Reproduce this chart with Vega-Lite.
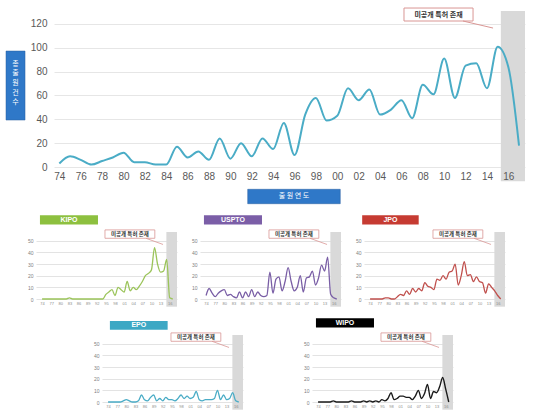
{
  "$schema": "https://vega.github.io/schema/vega-lite/v6.json",
  "padding": {"left": 2, "top": 7, "right": 2, "bottom": 2},
  "config": {"view": {"stroke": null}, "font": "Liberation Sans", "axis": {"labelOverlap": false}},
  "datasets": {
    "total": [
      {"year":1974,"count":3},{"year":1975,"count":9},{"year":1976,"count":6},{"year":1977,"count":2},{"year":1978,"count":5},{"year":1979,"count":8},{"year":1980,"count":12},{"year":1981,"count":4},{"year":1982,"count":4},{"year":1983,"count":2},{"year":1984,"count":2},{"year":1985,"count":17},{"year":1986,"count":8},{"year":1987,"count":13},{"year":1988,"count":6},{"year":1989,"count":24},{"year":1990,"count":7},{"year":1991,"count":20},{"year":1992,"count":9},{"year":1993,"count":24},{"year":1994,"count":15},{"year":1995,"count":37},{"year":1996,"count":10},{"year":1997,"count":44},{"year":1998,"count":58},{"year":1999,"count":39},{"year":2000,"count":43},{"year":2001,"count":66},{"year":2002,"count":56},{"year":2003,"count":65},{"year":2004,"count":44},{"year":2005,"count":48},{"year":2006,"count":56},{"year":2007,"count":41},{"year":2008,"count":69},{"year":2009,"count":61},{"year":2010,"count":91},{"year":2011,"count":58},{"year":2012,"count":85},{"year":2013,"count":87},{"year":2014,"count":66},{"year":2015,"count":101},{"year":2016,"count":84},{"year":2017,"count":18}
    ],
    "kipo": [
      {"year":1974,"count":0},{"year":1975,"count":0},{"year":1976,"count":0},{"year":1977,"count":0},{"year":1978,"count":0},{"year":1979,"count":0},{"year":1980,"count":0},{"year":1981,"count":0},{"year":1982,"count":0},{"year":1983,"count":1},{"year":1984,"count":0},{"year":1985,"count":0},{"year":1986,"count":0},{"year":1987,"count":0},{"year":1988,"count":0},{"year":1989,"count":0},{"year":1990,"count":0},{"year":1991,"count":0},{"year":1992,"count":0},{"year":1993,"count":0},{"year":1994,"count":0},{"year":1995,"count":4},{"year":1996,"count":6},{"year":1997,"count":8},{"year":1998,"count":3},{"year":1999,"count":10},{"year":2000,"count":8},{"year":2001,"count":6},{"year":2002,"count":15},{"year":2003,"count":7},{"year":2004,"count":10},{"year":2005,"count":8},{"year":2006,"count":11},{"year":2007,"count":15},{"year":2008,"count":20},{"year":2009,"count":22},{"year":2010,"count":25},{"year":2011,"count":44},{"year":2012,"count":30},{"year":2013,"count":23},{"year":2014,"count":24},{"year":2015,"count":34},{"year":2016,"count":1},{"year":2017,"count":0}
    ],
    "uspto": [
      {"year":1974,"count":3},{"year":1975,"count":9},{"year":1976,"count":5},{"year":1977,"count":2},{"year":1978,"count":5},{"year":1979,"count":7},{"year":1980,"count":8},{"year":1981,"count":3},{"year":1982,"count":4},{"year":1983,"count":2},{"year":1984,"count":1},{"year":1985,"count":6},{"year":1986,"count":1},{"year":1987,"count":6},{"year":1988,"count":2},{"year":1989,"count":8},{"year":1990,"count":2},{"year":1991,"count":6},{"year":1992,"count":3},{"year":1993,"count":2},{"year":1994,"count":3},{"year":1995,"count":23},{"year":1996,"count":5},{"year":1997,"count":17},{"year":1998,"count":19},{"year":1999,"count":7},{"year":2000,"count":15},{"year":2001,"count":27},{"year":2002,"count":15},{"year":2003,"count":7},{"year":2004,"count":10},{"year":2005,"count":20},{"year":2006,"count":6},{"year":2007,"count":18},{"year":2008,"count":19},{"year":2009,"count":24},{"year":2010,"count":12},{"year":2011,"count":18},{"year":2012,"count":29},{"year":2013,"count":24},{"year":2014,"count":36},{"year":2015,"count":4},{"year":2016,"count":1},{"year":2017,"count":0}
    ],
    "jpo": [
      {"year":1974,"count":0},{"year":1975,"count":0},{"year":1976,"count":0},{"year":1977,"count":0},{"year":1978,"count":0},{"year":1979,"count":1},{"year":1980,"count":1},{"year":1981,"count":0},{"year":1982,"count":0},{"year":1983,"count":2},{"year":1984,"count":4},{"year":1985,"count":3},{"year":1986,"count":7},{"year":1987,"count":4},{"year":1988,"count":9},{"year":1989,"count":6},{"year":1990,"count":9},{"year":1991,"count":7},{"year":1992,"count":14},{"year":1993,"count":11},{"year":1994,"count":10},{"year":1995,"count":8},{"year":1996,"count":17},{"year":1997,"count":16},{"year":1998,"count":20},{"year":1999,"count":17},{"year":2000,"count":23},{"year":2001,"count":24},{"year":2002,"count":30},{"year":2003,"count":12},{"year":2004,"count":20},{"year":2005,"count":32},{"year":2006,"count":20},{"year":2007,"count":21},{"year":2008,"count":15},{"year":2009,"count":19},{"year":2010,"count":15},{"year":2011,"count":14},{"year":2012,"count":5},{"year":2013,"count":13},{"year":2014,"count":10},{"year":2015,"count":7},{"year":2016,"count":3},{"year":2017,"count":0}
    ],
    "epo": [
      {"year":1974,"count":0},{"year":1975,"count":0},{"year":1976,"count":0},{"year":1977,"count":0},{"year":1978,"count":0},{"year":1979,"count":1},{"year":1980,"count":2},{"year":1981,"count":1},{"year":1982,"count":0},{"year":1983,"count":0},{"year":1984,"count":1},{"year":1985,"count":6},{"year":1986,"count":2},{"year":1987,"count":1},{"year":1988,"count":4},{"year":1989,"count":6},{"year":1990,"count":1},{"year":1991,"count":3},{"year":1992,"count":1},{"year":1993,"count":4},{"year":1994,"count":2},{"year":1995,"count":2},{"year":1996,"count":1},{"year":1997,"count":3},{"year":1998,"count":6},{"year":1999,"count":3},{"year":2000,"count":5},{"year":2001,"count":3},{"year":2002,"count":4},{"year":2003,"count":9},{"year":2004,"count":2},{"year":2005,"count":1},{"year":2006,"count":2},{"year":2007,"count":2},{"year":2008,"count":2},{"year":2009,"count":3},{"year":2010,"count":10},{"year":2011,"count":2},{"year":2012,"count":6},{"year":2013,"count":2},{"year":2014,"count":3},{"year":2015,"count":8},{"year":2016,"count":1},{"year":2017,"count":0}
    ],
    "wipo": [
      {"year":1974,"count":0},{"year":1975,"count":0},{"year":1976,"count":0},{"year":1977,"count":0},{"year":1978,"count":0},{"year":1979,"count":1},{"year":1980,"count":0},{"year":1981,"count":0},{"year":1982,"count":0},{"year":1983,"count":0},{"year":1984,"count":0},{"year":1985,"count":1},{"year":1986,"count":0},{"year":1987,"count":0},{"year":1988,"count":0},{"year":1989,"count":1},{"year":1990,"count":0},{"year":1991,"count":1},{"year":1992,"count":0},{"year":1993,"count":1},{"year":1994,"count":0},{"year":1995,"count":2},{"year":1996,"count":1},{"year":1997,"count":3},{"year":1998,"count":8},{"year":1999,"count":2},{"year":2000,"count":3},{"year":2001,"count":5},{"year":2002,"count":5},{"year":2003,"count":4},{"year":2004,"count":4},{"year":2005,"count":2},{"year":2006,"count":5},{"year":2007,"count":10},{"year":2008,"count":3},{"year":2009,"count":7},{"year":2010,"count":15},{"year":2011,"count":3},{"year":2012,"count":9},{"year":2013,"count":8},{"year":2014,"count":13},{"year":2015,"count":21},{"year":2016,"count":11},{"year":2017,"count":0}
    ]
  },
  "spacing": 11,
  "vconcat": [
    {
      "spacing": 0,
      "hconcat": [
        {"width": 3, "height": 10, "data": {"values": []}, "mark": "point"},
        {
          "width": 471,
          "height": 156,
          "data": {"name": "total"},
          "layer": [
            {"data": {"values": [{}]}, "mark": {"type": "rect", "fill": "#d9d9d9"},
             "encoding": {"x": {"datum": 2015.3}, "x2": {"datum": 2017.56}, "y": {"datum": -12}, "y2": {"datum": 130.9}}},
            {"mark": {"type": "line", "interpolate": "monotone", "stroke": "#4aacc6", "strokeWidth": 2},
             "encoding": {
               "x": {"field": "year", "type": "quantitative", "scale": {"domain": [1973.5, 2017.56], "nice": false, "zero": false},
                     "axis": {"values": [1974,1976,1978,1980,1982,1984,1986,1988,1990,1992,1994,1996,1998,2000,2002,2004,2006,2008,2010,2012,2014,2016], "tickCount": 100, "format": "d", "labelExpr": "substring(datum.label, 2)", "title": null, "grid": false, "domain": false, "ticks": false, "labelPadding": 4, "labelFontSize": 10, "labelColor": "#595959", "labelOverlap": false, "labelFlush": false, "zindex": 1}},
               "y": {"field": "count", "type": "quantitative", "scale": {"domain": [0, 130.9], "nice": false},
                     "axis": {"values": [0,20,40,60,80,100,120], "tickCount": 100, "format": "d", "title": null, "grid": true, "gridColor": "#e6e6e6", "domain": false, "ticks": false, "labelPadding": 7, "labelFontSize": 10, "labelColor": "#595959", "labelOverlap": false}}
             }},
            {"data": {"values": [{}]}, "mark": {"type": "rect", "fill": "#ffffff", "stroke": "#d99694", "strokeWidth": 1},
             "encoding": {"x": {"datum": 2006.24}, "x2": {"datum": 2012.7}, "y": {"datum": 122.5}, "y2": {"datum": 133.4}}},
            {"data": {"values": [{}]}, "mark": {"type": "rule", "stroke": "#d99694", "strokeWidth": 1},
             "encoding": {"x": {"datum": 2011.76}, "x2": {"datum": 2014.57}, "y": {"datum": 122.5}, "y2": {"datum": 116.6}}},
            {"data": {"values": [{}]}, "mark": {"type": "text", "text": "미공개 특허 존재", "font": "Noto Sans CJK KR", "fontSize": 7, "fontWeight": "bold", "color": "#333333", "align": "center", "baseline": "middle"},
             "encoding": {"x": {"datum": 2009.47}, "y": {"datum": 127.9}}},
            {"data": {"values": [{}]}, "mark": {"type": "rect", "fill": "#2f78c8", "stroke": "#2a5f9e", "strokeWidth": 0.5},
             "encoding": {"x": {"datum": 1991.62}, "x2": {"datum": 2000.28}, "y": {"datum": -30.8}, "y2": {"datum": -18.7}}},
            {"data": {"values": [{}]}, "mark": {"type": "text", "text": "출 원 연 도", "font": "Noto Sans CJK KR", "fontSize": 7, "color": "#ffffff", "align": "center", "baseline": "middle"},
             "encoding": {"x": {"datum": 1995.95}, "y": {"datum": -24.75}}},
            {"data": {"values": [{}]}, "mark": {"type": "rect", "fill": "#2f78c8", "stroke": "#2a5f9e", "strokeWidth": 0.5},
             "encoding": {"x": {"datum": 1969.01}, "x2": {"datum": 1970.79}, "y": {"datum": 39.4}, "y2": {"datum": 97.3}}},
            {"data": {"values": [{}]}, "mark": {"type": "text", "text": "총", "font": "Noto Sans CJK KR", "fontSize": 7, "color": "#ffffff", "align": "center", "baseline": "middle"},
             "encoding": {"x": {"datum": 1969.9}, "y": {"datum": 86.4}}},
            {"data": {"values": [{}]}, "mark": {"type": "text", "text": "출", "font": "Noto Sans CJK KR", "fontSize": 7, "color": "#ffffff", "align": "center", "baseline": "middle"},
             "encoding": {"x": {"datum": 1969.9}, "y": {"datum": 78.5}}},
            {"data": {"values": [{}]}, "mark": {"type": "text", "text": "원", "font": "Noto Sans CJK KR", "fontSize": 7, "color": "#ffffff", "align": "center", "baseline": "middle"},
             "encoding": {"x": {"datum": 1969.9}, "y": {"datum": 70.5}}},
            {"data": {"values": [{}]}, "mark": {"type": "text", "text": "건", "font": "Noto Sans CJK KR", "fontSize": 7, "color": "#ffffff", "align": "center", "baseline": "middle"},
             "encoding": {"x": {"datum": 1969.9}, "y": {"datum": 62.5}}},
            {"data": {"values": [{}]}, "mark": {"type": "text", "text": "수", "font": "Noto Sans CJK KR", "fontSize": 7, "color": "#ffffff", "align": "center", "baseline": "middle"},
             "encoding": {"x": {"datum": 1969.9}, "y": {"datum": 54.5}}}
          ]
        }
      ]
    },
    {
      "spacing": 14,
      "hconcat": [
        {"width": 11, "height": 10, "data": {"values": []}, "mark": "point"},
        {
          "width": 141, "height": 67,
          "data": {"name": "kipo"},
          "layer": [
            {"data": {"values": [{}]}, "mark": {"type": "rect", "fill": "#d9d9d9"},
             "encoding": {"x": {"datum": 2014.9}, "x2": {"datum": 2018.4}, "y": {"datum": -6.6}, "y2": {"datum": 57.5}}},
            {"mark": {"type": "line", "interpolate": "monotone", "stroke": "#9bc45a", "strokeWidth": 1.3},
             "encoding": {
               "x": {"field": "year", "type": "quantitative", "scale": {"domain": [1972, 2018.4], "nice": false, "zero": false},
                     "axis": {"values": [1974,1977,1980,1983,1986,1989,1992,1995,1998,2001,2004,2007,2010,2013,2016], "tickCount": 100, "format": "d", "labelExpr": "substring(datum.label, 2)", "title": null, "grid": false, "domain": false, "ticks": false, "labelPadding": 2, "labelFontSize": 4, "labelColor": "#8c8c8c", "labelOverlap": false, "labelFlush": false, "zindex": 1}},
               "y": {"field": "count", "type": "quantitative", "scale": {"domain": [0, 57.5], "nice": false},
                     "axis": {"values": [0,10,20,30,40,50], "tickCount": 100, "format": "d", "title": null, "grid": true, "gridColor": "#e3e3e3", "domain": false, "ticks": false, "labelPadding": 3, "labelFontSize": 5, "labelColor": "#7f7f7f", "labelOverlap": false}}
             }},
            {"data": {"values": [{}]}, "mark": {"type": "rect", "fill": "#8dc03f"},
             "encoding": {"x": {"datum": 1973.3}, "x2": {"datum": 1992.4}, "y": {"datum": 64.0}, "y2": {"datum": 71.8}}},
            {"data": {"values": [{}]}, "mark": {"type": "text", "text": "KIPO", "fontSize": 7, "fontWeight": "bold", "color": "#ffffff", "align": "center", "baseline": "middle"},
             "encoding": {"x": {"datum": 1982.85}, "y": {"datum": 67.9}}},
            {"data": {"values": [{}]}, "mark": {"type": "rect", "fill": "#ffffff", "stroke": "#d99694", "strokeWidth": 0.8},
             "encoding": {"x": {"datum": 1994.7}, "x2": {"datum": 2011.1}, "y": {"datum": 52.1}, "y2": {"datum": 59.3}}},
            {"data": {"values": [{}]}, "mark": {"type": "rule", "stroke": "#d99694", "strokeWidth": 0.8},
             "encoding": {"x": {"datum": 2008.2}, "x2": {"datum": 2013.8}, "y": {"datum": 52.1}, "y2": {"datum": 46.8}}},
            {"data": {"values": [{}]}, "mark": {"type": "text", "text": "미공개 특허 존재", "font": "Noto Sans CJK KR", "fontSize": 5.5, "fontWeight": "bold", "color": "#333333", "align": "center", "baseline": "middle"},
             "encoding": {"x": {"datum": 2002.9}, "y": {"datum": 55.7}}}
          ]
        },
        {
          "width": 141, "height": 67,
          "data": {"name": "uspto"},
          "layer": [
            {"data": {"values": [{}]}, "mark": {"type": "rect", "fill": "#d9d9d9"},
             "encoding": {"x": {"datum": 2014.9}, "x2": {"datum": 2018.4}, "y": {"datum": -6.6}, "y2": {"datum": 57.5}}},
            {"mark": {"type": "line", "interpolate": "monotone", "stroke": "#7a5fa6", "strokeWidth": 1.3},
             "encoding": {
               "x": {"field": "year", "type": "quantitative", "scale": {"domain": [1972, 2018.4], "nice": false, "zero": false},
                     "axis": {"values": [1974,1977,1980,1983,1986,1989,1992,1995,1998,2001,2004,2007,2010,2013,2016], "tickCount": 100, "format": "d", "labelExpr": "substring(datum.label, 2)", "title": null, "grid": false, "domain": false, "ticks": false, "labelPadding": 2, "labelFontSize": 4, "labelColor": "#8c8c8c", "labelOverlap": false, "labelFlush": false, "zindex": 1}},
               "y": {"field": "count", "type": "quantitative", "scale": {"domain": [0, 57.5], "nice": false},
                     "axis": {"values": [0,10,20,30,40,50], "tickCount": 100, "format": "d", "title": null, "grid": true, "gridColor": "#e3e3e3", "domain": false, "ticks": false, "labelPadding": 3, "labelFontSize": 5, "labelColor": "#7f7f7f", "labelOverlap": false}}
             }},
            {"data": {"values": [{}]}, "mark": {"type": "rect", "fill": "#7b5ea7"},
             "encoding": {"x": {"datum": 1973.3}, "x2": {"datum": 1992.4}, "y": {"datum": 64.0}, "y2": {"datum": 71.8}}},
            {"data": {"values": [{}]}, "mark": {"type": "text", "text": "USPTO", "fontSize": 7, "fontWeight": "bold", "color": "#ffffff", "align": "center", "baseline": "middle"},
             "encoding": {"x": {"datum": 1982.85}, "y": {"datum": 67.9}}},
            {"data": {"values": [{}]}, "mark": {"type": "rect", "fill": "#ffffff", "stroke": "#d99694", "strokeWidth": 0.8},
             "encoding": {"x": {"datum": 1994.7}, "x2": {"datum": 2011.1}, "y": {"datum": 52.1}, "y2": {"datum": 59.3}}},
            {"data": {"values": [{}]}, "mark": {"type": "rule", "stroke": "#d99694", "strokeWidth": 0.8},
             "encoding": {"x": {"datum": 2008.2}, "x2": {"datum": 2013.8}, "y": {"datum": 52.1}, "y2": {"datum": 46.8}}},
            {"data": {"values": [{}]}, "mark": {"type": "text", "text": "미공개 특허 존재", "font": "Noto Sans CJK KR", "fontSize": 5.5, "fontWeight": "bold", "color": "#333333", "align": "center", "baseline": "middle"},
             "encoding": {"x": {"datum": 2002.9}, "y": {"datum": 55.7}}}
          ]
        },
        {
          "width": 141, "height": 67,
          "data": {"name": "jpo"},
          "layer": [
            {"data": {"values": [{}]}, "mark": {"type": "rect", "fill": "#d9d9d9"},
             "encoding": {"x": {"datum": 2014.9}, "x2": {"datum": 2018.4}, "y": {"datum": -6.6}, "y2": {"datum": 57.5}}},
            {"mark": {"type": "line", "interpolate": "monotone", "stroke": "#c0504d", "strokeWidth": 1.3},
             "encoding": {
               "x": {"field": "year", "type": "quantitative", "scale": {"domain": [1972, 2018.4], "nice": false, "zero": false},
                     "axis": {"values": [1974,1977,1980,1983,1986,1989,1992,1995,1998,2001,2004,2007,2010,2013,2016], "tickCount": 100, "format": "d", "labelExpr": "substring(datum.label, 2)", "title": null, "grid": false, "domain": false, "ticks": false, "labelPadding": 2, "labelFontSize": 4, "labelColor": "#8c8c8c", "labelOverlap": false, "labelFlush": false, "zindex": 1}},
               "y": {"field": "count", "type": "quantitative", "scale": {"domain": [0, 57.5], "nice": false},
                     "axis": {"values": [0,10,20,30,40,50], "tickCount": 100, "format": "d", "title": null, "grid": true, "gridColor": "#e3e3e3", "domain": false, "ticks": false, "labelPadding": 3, "labelFontSize": 5, "labelColor": "#7f7f7f", "labelOverlap": false}}
             }},
            {"data": {"values": [{}]}, "mark": {"type": "rect", "fill": "#c63b32"},
             "encoding": {"x": {"datum": 1971.4}, "x2": {"datum": 1990.0}, "y": {"datum": 64.0}, "y2": {"datum": 71.8}}},
            {"data": {"values": [{}]}, "mark": {"type": "text", "text": "JPO", "fontSize": 7, "fontWeight": "bold", "color": "#ffffff", "align": "center", "baseline": "middle"},
             "encoding": {"x": {"datum": 1980.7}, "y": {"datum": 67.9}}},
            {"data": {"values": [{}]}, "mark": {"type": "rect", "fill": "#ffffff", "stroke": "#d99694", "strokeWidth": 0.8},
             "encoding": {"x": {"datum": 1994.7}, "x2": {"datum": 2011.1}, "y": {"datum": 52.1}, "y2": {"datum": 59.3}}},
            {"data": {"values": [{}]}, "mark": {"type": "rule", "stroke": "#d99694", "strokeWidth": 0.8},
             "encoding": {"x": {"datum": 2008.2}, "x2": {"datum": 2013.8}, "y": {"datum": 52.1}, "y2": {"datum": 46.8}}},
            {"data": {"values": [{}]}, "mark": {"type": "text", "text": "미공개 특허 존재", "font": "Noto Sans CJK KR", "fontSize": 5.5, "fontWeight": "bold", "color": "#333333", "align": "center", "baseline": "middle"},
             "encoding": {"x": {"datum": 2002.9}, "y": {"datum": 55.7}}}
          ]
        }
      ]
    },
    {
      "spacing": 60,
      "hconcat": [
        {"width": 31, "height": 10, "data": {"values": []}, "mark": "point"},
        {
          "width": 141, "height": 67,
          "data": {"name": "epo"},
          "layer": [
            {"data": {"values": [{}]}, "mark": {"type": "rect", "fill": "#d9d9d9"},
             "encoding": {"x": {"datum": 2014.9}, "x2": {"datum": 2018.4}, "y": {"datum": -6.6}, "y2": {"datum": 57.5}}},
            {"mark": {"type": "line", "interpolate": "monotone", "stroke": "#4aacc6", "strokeWidth": 1.3},
             "encoding": {
               "x": {"field": "year", "type": "quantitative", "scale": {"domain": [1972, 2018.4], "nice": false, "zero": false},
                     "axis": {"values": [1974,1977,1980,1983,1986,1989,1992,1995,1998,2001,2004,2007,2010,2013,2016], "tickCount": 100, "format": "d", "labelExpr": "substring(datum.label, 2)", "title": null, "grid": false, "domain": false, "ticks": false, "labelPadding": 2, "labelFontSize": 4, "labelColor": "#8c8c8c", "labelOverlap": false, "labelFlush": false, "zindex": 1}},
               "y": {"field": "count", "type": "quantitative", "scale": {"domain": [0, 57.5], "nice": false},
                     "axis": {"values": [0,10,20,30,40,50], "tickCount": 100, "format": "d", "title": null, "grid": true, "gridColor": "#e3e3e3", "domain": false, "ticks": false, "labelPadding": 3, "labelFontSize": 5, "labelColor": "#7f7f7f", "labelOverlap": false}}
             }},
            {"data": {"values": [{}]}, "mark": {"type": "rect", "fill": "#3da8c4"},
             "encoding": {"x": {"datum": 1974.6}, "x2": {"datum": 1993.6}, "y": {"datum": 62.0}, "y2": {"datum": 69.5}}},
            {"data": {"values": [{}]}, "mark": {"type": "text", "text": "EPO", "fontSize": 7, "fontWeight": "bold", "color": "#ffffff", "align": "center", "baseline": "middle"},
             "encoding": {"x": {"datum": 1984.1}, "y": {"datum": 65.75}}},
            {"data": {"values": [{}]}, "mark": {"type": "rect", "fill": "#ffffff", "stroke": "#d99694", "strokeWidth": 0.8},
             "encoding": {"x": {"datum": 1994.7}, "x2": {"datum": 2011.1}, "y": {"datum": 52.1}, "y2": {"datum": 59.3}}},
            {"data": {"values": [{}]}, "mark": {"type": "rule", "stroke": "#d99694", "strokeWidth": 0.8},
             "encoding": {"x": {"datum": 2008.2}, "x2": {"datum": 2013.8}, "y": {"datum": 52.1}, "y2": {"datum": 46.8}}},
            {"data": {"values": [{}]}, "mark": {"type": "text", "text": "미공개 특허 존재", "font": "Noto Sans CJK KR", "fontSize": 5.5, "fontWeight": "bold", "color": "#333333", "align": "center", "baseline": "middle"},
             "encoding": {"x": {"datum": 2002.9}, "y": {"datum": 55.7}}}
          ]
        },
        {
          "width": 141, "height": 67,
          "data": {"name": "wipo"},
          "layer": [
            {"data": {"values": [{}]}, "mark": {"type": "rect", "fill": "#d9d9d9"},
             "encoding": {"x": {"datum": 2014.9}, "x2": {"datum": 2018.4}, "y": {"datum": -6.6}, "y2": {"datum": 57.5}}},
            {"mark": {"type": "line", "interpolate": "monotone", "stroke": "#1a1a1a", "strokeWidth": 1.4},
             "encoding": {
               "x": {"field": "year", "type": "quantitative", "scale": {"domain": [1972, 2018.4], "nice": false, "zero": false},
                     "axis": {"values": [1974,1977,1980,1983,1986,1989,1992,1995,1998,2001,2004,2007,2010,2013,2016], "tickCount": 100, "format": "d", "labelExpr": "substring(datum.label, 2)", "title": null, "grid": false, "domain": false, "ticks": false, "labelPadding": 2, "labelFontSize": 4, "labelColor": "#8c8c8c", "labelOverlap": false, "labelFlush": false, "zindex": 1}},
               "y": {"field": "count", "type": "quantitative", "scale": {"domain": [0, 57.5], "nice": false},
                     "axis": {"values": [0,10,20,30,40,50], "tickCount": 100, "format": "d", "title": null, "grid": true, "gridColor": "#e3e3e3", "domain": false, "ticks": false, "labelPadding": 3, "labelFontSize": 5, "labelColor": "#7f7f7f", "labelOverlap": false}}
             }},
            {"data": {"values": [{}]}, "mark": {"type": "rect", "fill": "#000000"},
             "encoding": {"x": {"datum": 1973.3}, "x2": {"datum": 1992.4}, "y": {"datum": 64.0}, "y2": {"datum": 71.8}}},
            {"data": {"values": [{}]}, "mark": {"type": "text", "text": "WIPO", "fontSize": 7, "fontWeight": "bold", "color": "#ffffff", "align": "center", "baseline": "middle"},
             "encoding": {"x": {"datum": 1982.85}, "y": {"datum": 67.9}}},
            {"data": {"values": [{}]}, "mark": {"type": "rect", "fill": "#ffffff", "stroke": "#d99694", "strokeWidth": 0.8},
             "encoding": {"x": {"datum": 1994.7}, "x2": {"datum": 2011.1}, "y": {"datum": 52.1}, "y2": {"datum": 59.3}}},
            {"data": {"values": [{}]}, "mark": {"type": "rule", "stroke": "#d99694", "strokeWidth": 0.8},
             "encoding": {"x": {"datum": 2008.2}, "x2": {"datum": 2013.8}, "y": {"datum": 52.1}, "y2": {"datum": 46.8}}},
            {"data": {"values": [{}]}, "mark": {"type": "text", "text": "미공개 특허 존재", "font": "Noto Sans CJK KR", "fontSize": 5.5, "fontWeight": "bold", "color": "#333333", "align": "center", "baseline": "middle"},
             "encoding": {"x": {"datum": 2002.9}, "y": {"datum": 55.7}}}
          ]
        }
      ]
    }
  ]
}
